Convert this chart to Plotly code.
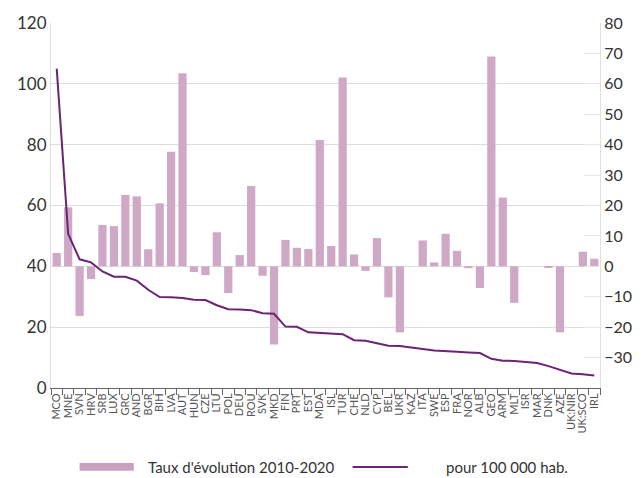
import plotly.graph_objects as go

# Country codes along the x axis
countries = ["MCO", "MNE", "SVN", "HRV", "SRB", "LUX", "GRC", "AND", "BGR", "BIH",
             "LVA", "AUT", "HUN", "CZE", "LTU", "POL", "DEU", "ROU", "SVK", "MKD",
             "FIN", "PRT", "EST", "MDA", "ISL", "TUR", "CHE", "NLD", "CYP", "BEL",
             "UKR", "KAZ", "ITA", "SWE", "ESP", "FRA", "NOR", "ALB", "GEO", "ARM",
             "MLT", "ISR", "MAR", "DNK", "AZE", "UK:NIR", "UK:SCO", "IRL"]

# Growth rate 2010-2020 (%), right axis; None = no value
growth_rate = [4.4, 19.4, -16.3, -4.2, 13.6, 13.2, 23.5, 23.0, 5.6, 20.7,
               37.7, 63.5, -1.9, -2.9, 11.2, -8.8, 3.7, 26.4, -3.1, -25.7,
               8.7, 6.1, 5.7, 41.5, 6.7, 62.1, 3.9, -1.5, 9.3, -10.2,
               -21.7, None, 8.5, 1.3, 10.7, 5.1, -0.6, -7.1, 69.0, 22.6,
               -12.0, None, None, -0.3, -21.7, None, 4.8, 2.5]

# Rate per 100 000 inhabitants, left axis
per_100k = [105.0, 50.7, 42.3, 41.3, 38.3, 36.6, 36.6, 35.3, 32.3, 29.9,
            29.8, 29.6, 29.0, 28.9, 27.2, 25.9, 25.8, 25.6, 24.6, 24.4,
            20.2, 20.1, 18.3, 18.1, 17.9, 17.7, 15.7, 15.5, 14.7, 13.9,
            13.8, 13.4, 12.8, 12.3, 12.0, 11.9, 11.7, 11.5, 9.6, 9.0,
            8.9, 8.5, 8.2, 7.2, 6.1, 4.8, 4.5, 4.1]

left_ticks = [0, 20, 40, 60, 80, 100, 120]
right_ticks = [-30, -20, -10, 0, 10, 20, 30, 40, 50, 60, 70, 80]

bar_color = "#cfa8c6"
line_color = "#6b2373"
font_family = "Lato, 'Open Sans', sans-serif"
text_color = "#333333"

fig = go.Figure()

fig.add_trace(go.Bar(
    x=countries, y=growth_rate, name="Taux d'évolution 2010-2020",
    marker=dict(color=bar_color, line=dict(width=0)),
    yaxis="y", showlegend=False,
))

fig.add_trace(go.Scatter(
    x=countries, y=per_100k, name="pour 100 000 hab.",
    mode="lines", line=dict(color=line_color, width=2),
    yaxis="y2", showlegend=False,
))

# Hand-built legend below the plot
L, R, T, B = 51, 36, 18, 90
W, H = 644 - L - R, 478 - T - B


def px_x(p):
    return (p - L) / W


def px_y(p):
    return (388 - p) / H


legend_y = 468
shapes = [
    dict(type="rect", xref="paper", yref="paper",
         x0=px_x(80), x1=px_x(135), y0=px_y(464), y1=px_y(472),
         fillcolor="#c9a0c0", line=dict(width=0)),
    dict(type="line", xref="paper", yref="paper",
         x0=px_x(357), x1=px_x(413), y0=px_y(legend_y), y1=px_y(legend_y),
         line=dict(color=line_color, width=2)),
]
legend_font = dict(size=15, color=text_color, family=font_family)
annotations = [
    dict(text="Taux d'évolution 2010-2020", xref="paper", yref="paper",
         x=px_x(147), y=px_y(legend_y), xanchor="left", yanchor="middle",
         showarrow=False, font=legend_font),
    dict(text="pour 100 000 hab.", xref="paper", yref="paper",
         x=px_x(450), y=px_y(legend_y), xanchor="left", yanchor="middle",
         showarrow=False, font=legend_font),
]

fig.update_layout(
    width=644, height=478,
    margin=dict(l=L, r=R, t=T, b=B),
    paper_bgcolor="white", plot_bgcolor="white",
    font=dict(family=font_family, color=text_color),
    bargap=0.28,
    shapes=shapes,
    annotations=annotations,
    xaxis=dict(
        type="category", tickmode="array", tickvals=countries, ticktext=countries,
        tickangle=-90, tickfont=dict(size=11, color="#555555"),
        ticks="outside", ticklen=6, tickcolor="#666666", tickson="boundaries",
        showline=True, linecolor="#666666", linewidth=1,
        showgrid=False, range=[-0.5, len(countries) - 0.5],
    ),
    yaxis=dict(
        side="right", range=[-40, 80], tickvals=right_ticks,
        tickfont=dict(size=16, color=text_color),
        ticks="inside", ticklen=16, tickcolor="#e6e6e6",
        showline=True, linecolor="#e0e0e0",
        showgrid=False, zeroline=False,
    ),
    yaxis2=dict(
        side="left", overlaying="y", range=[0, 120], tickvals=left_ticks,
        tickfont=dict(size=17, color=text_color),
        showline=True, linecolor="#e0e0e0",
        showgrid=True, gridcolor="#dddddd", gridwidth=1, zeroline=False,
    ),
)

fig.write_html("out.html")
